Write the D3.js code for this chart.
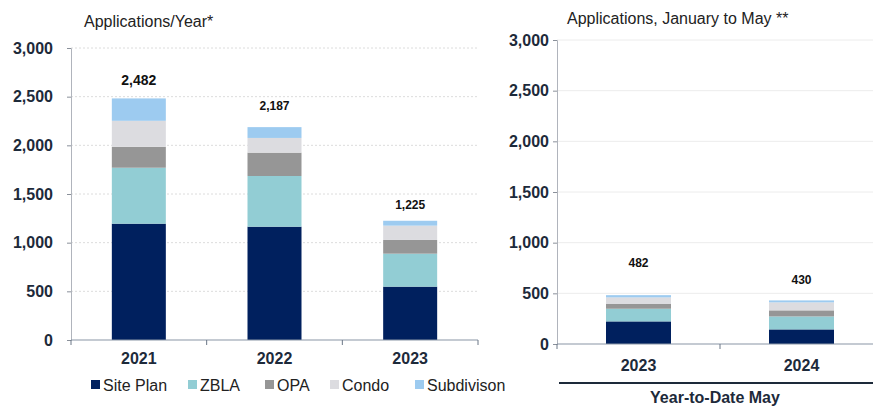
<!DOCTYPE html>
<html>
<head>
<meta charset="utf-8">
<script src="https://cdn.jsdelivr.net/npm/d3@7"></script>
<style>
  body { margin: 0; background: #fff; }
  svg { font-family: "Liberation Sans", Arial, sans-serif; display: block; }
</style>
</head>
<body>
<div id="chart"></div>
<script>
var series = ["Site Plan", "ZBLA", "OPA", "Condo", "Subdivison"];
var colors = ["#00205e", "#92cdd4", "#969696", "#dcdce0", "#9dcbf0"];

var yearCats = ["2021", "2022", "2023"];
var sitePlan = [1195, 1164, 548];
var zbla = [575, 521, 339];
var opa = [215, 240, 141];
var condo = [267, 151, 147];
var subdiv = [230, 111, 50];

var ytdCats = ["2023", "2024"];
var ytdSitePlan = [223, 144];
var ytdZbla = [125, 128];
var ytdOpa = [47, 60];
var ytdCondo = [65, 79];
var ytdSubdiv = [22, 19];

var yTicks = [0, 500, 1000, 1500, 2000, 2500, 3000];

var svg = d3.select("#chart").append("svg")
  .attr("width", 873)
  .attr("height", 407);

function buildRows(cats, lists) {
  return cats.map(function(c, i) {
    var row = { cat: c };
    series.forEach(function(s, j) { row[s] = lists[j][i]; });
    row.total = d3.sum(lists, l => l[i]);
    return row;
  });
}

function drawPanel(opt) {
  var rows = buildRows(opt.cats, opt.lists);
  var x = d3.scaleBand().domain(opt.cats).range([opt.x0, opt.x1]);
  var y = d3.scaleLinear().domain([0, 3000]).range([opt.y0, opt.y1]);
  var g = svg.append("g");

  // gridlines
  g.append("g").selectAll("line")
    .data(yTicks.slice(1))
    .enter().append("line")
    .attr("x1", opt.x0).attr("x2", opt.x1)
    .attr("y1", d => y(d)).attr("y2", d => y(d))
    .attr("stroke", opt.gridColor)
    .attr("stroke-dasharray", opt.gridDash);

  var stack = d3.stack().keys(series)(rows);
  g.append("g").selectAll("g")
    .data(stack)
    .enter().append("g")
    .attr("fill", (d, i) => colors[i])
    .selectAll("rect")
    .data(d => d)
    .enter().append("rect")
    .attr("x", d => x(d.data.cat) + (x.bandwidth() - opt.barW) / 2)
    .attr("width", opt.barW)
    .attr("y", d => y(d[1]))
    .attr("height", d => y(d[0]) - y(d[1]));

  // y axis
  var yAxis = g.append("g")
    .attr("transform", `translate(${opt.x0},0)`)
    .call(d3.axisLeft(y).tickValues(yTicks).tickSize(4).tickFormat(d3.format(",")));
  yAxis.select(".domain").attr("stroke", "#b0b4bc");
  yAxis.selectAll(".tick line").attr("stroke", "#8a909a");
  yAxis.selectAll("text")
    .attr("x", opt.labelX - opt.x0)
    .attr("font-size", 16).attr("font-weight", "bold")
    .attr("fill", "#1d2a3a")
    .attr("font-family", "Liberation Sans, Arial, sans-serif");

  // x axis
  var xAxis = g.append("g").attr("transform", `translate(0,${opt.y0})`);
  xAxis.append("line")
    .attr("x1", opt.x0).attr("x2", opt.x1)
    .attr("stroke", "#8a96a6").attr("stroke-width", 1.2);
  xAxis.selectAll("line.sep")
    .data(opt.cats.slice(1).concat(["__end"]))
    .enter().append("line")
    .attr("class", "sep")
    .attr("x1", d => d === "__end" ? opt.x1 : x(d))
    .attr("x2", d => d === "__end" ? opt.x1 : x(d))
    .attr("y1", 0).attr("y2", 5)
    .attr("stroke", "#6a7686");
  xAxis.append("line")
    .attr("x1", opt.x0).attr("x2", opt.x0)
    .attr("y1", 0).attr("y2", 5)
    .attr("stroke", "#6a7686");
  xAxis.selectAll("text")
    .data(opt.cats)
    .enter().append("text")
    .attr("x", d => x(d) + x.bandwidth() / 2)
    .attr("y", opt.catDy)
    .attr("text-anchor", "middle")
    .attr("font-size", 16).attr("font-weight", "bold")
    .attr("fill", "#1d2a3a")
    .text(d => d);

  // totals
  g.append("g").selectAll("text")
    .data(rows)
    .enter().append("text")
    .attr("x", d => x(d.cat) + x.bandwidth() / 2)
    .attr("y", (d, i) => y(d.total) - opt.totalGap[i])
    .attr("text-anchor", "middle")
    .attr("font-size", (d, i) => opt.totalSize[i])
    .attr("font-weight", "bold")
    .attr("fill", "#111")
    .text(d => d3.format(",")(d.total));

  svg.append("text")
    .attr("x", opt.titleX).attr("y", opt.titleY)
    .attr("font-size", 16).attr("fill", "#222")
    .text(opt.title);

  return { x: x, y: y };
}

drawPanel({
  cats: yearCats,
  lists: [sitePlan, zbla, opa, condo, subdiv],
  x0: 71, x1: 478, y0: 340, y1: 48,
  barW: 54, labelX: 53,
  gridColor: "#dcdcdc", gridDash: "2,2",
  catDy: 24,
  totalGap: [13, 17, 12],
  totalSize: [14, 12, 12],
  title: "Applications/Year*", titleX: 84, titleY: 27
});

drawPanel({
  cats: ytdCats,
  lists: [ytdSitePlan, ytdZbla, ytdOpa, ytdCondo, ytdSubdiv],
  x0: 557, x1: 883, y0: 344, y1: 40,
  barW: 65, labelX: 549,
  gridColor: "#ececec", gridDash: null,
  catDy: 27,
  totalGap: [28, 16],
  totalSize: [12, 12],
  title: "Applications, January to May **", titleX: 567, titleY: 24
});

// bottom bracket and label for right panel
svg.append("line")
  .attr("x1", 559).attr("x2", 873)
  .attr("y1", 383).attr("y2", 383)
  .attr("stroke", "#1d2a3a").attr("stroke-width", 2);
svg.append("text")
  .attr("x", 715).attr("y", 403)
  .attr("text-anchor", "middle")
  .attr("font-size", 16).attr("font-weight", "bold")
  .attr("fill", "#1d2a3a")
  .text("Year-to-Date May");

// legend
var legendX = [91, 188, 265, 330, 415];
var legend = svg.append("g").selectAll("g")
  .data(series)
  .enter().append("g")
  .attr("transform", (d, i) => `translate(${legendX[i]},385)`);
legend.append("rect")
  .attr("x", 0).attr("y", -5)
  .attr("width", 9).attr("height", 9)
  .attr("fill", (d, i) => colors[i]);
legend.append("text")
  .attr("x", 12).attr("y", 6)
  .attr("font-size", 16).attr("fill", "#222")
  .text(d => d);
</script>
</body>
</html>
